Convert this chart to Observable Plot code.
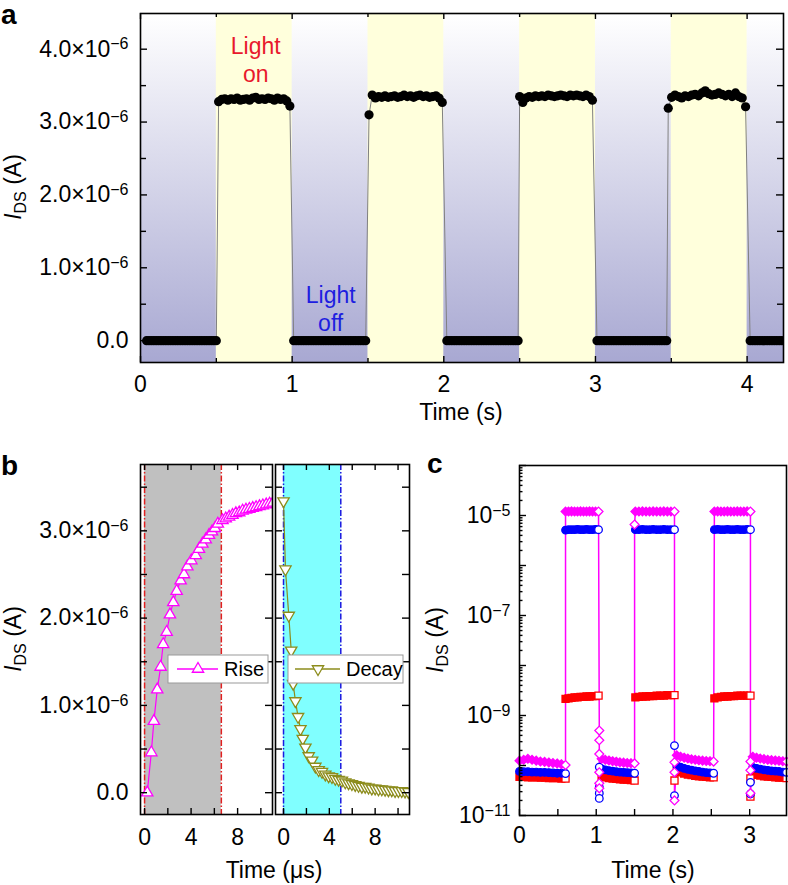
<!DOCTYPE html>
<html><head><meta charset="utf-8">
<script src="https://cdn.jsdelivr.net/npm/d3@7"></script>
<script src="https://cdn.jsdelivr.net/npm/@observablehq/plot@0.6"></script>
<style>
body{margin:0;background:#fff;}
#fig{position:relative;width:788px;height:885px;overflow:hidden;background:#fff;}
</style></head><body><div id="fig"></div>
<script>
// ---------------- DATA ----------------
// Panel a: light-on windows (s)
const aOnStart = [0.5, 1.5, 2.5, 3.5];
const aOnEnd   = [1.0, 2.0, 3.0, 4.0];
// Panel a: measured segments (start, end in s) and I_DS values (×1e-6 A)
const aSegStart = [0.04, 0.515, 1.01, 1.507, 2.02, 2.50, 3.01, 3.48, 4.02];
const aSegEnd   = [0.50, 0.985, 1.485, 1.99, 2.49, 2.98, 3.47, 3.99, 4.26];
const aOff1 = [0,0,0,0,0,0,0,0,0,0,0,0,0,0,0,0,0,0,0,0,0,0,0,0,0,0,0,0,0,0];
const aOff2 = [0,0,0,0,0,0,0,0,0,0,0,0,0,0,0,0,0,0,0,0,0,0,0,0,0,0,0,0,0,0];
const aOff3 = [0,0,0,0,0,0,0,0,0,0,0,0,0,0,0,0,0,0,0,0,0,0,0,0,0,0,0,0,0,0];
const aOff4 = [0,0,0,0,0,0,0,0,0,0,0,0,0,0,0,0,0,0,0,0,0,0,0,0,0,0,0,0,0,0];
const aOff5 = [0,0,0,0,0,0,0,0,0,0,0,0,0,0,0,0];
const aOn1 = [3.28,3.31,3.32,3.30,3.32,3.31,3.33,3.30,3.31,3.32,3.30,3.33,3.34,3.31,3.32,3.31,3.33,3.32,3.30,3.33,3.31,3.32,3.29,3.22];
const aOn2 = [3.10,3.37,3.33,3.35,3.34,3.36,3.34,3.35,3.36,3.34,3.35,3.37,3.35,3.36,3.34,3.36,3.37,3.35,3.36,3.34,3.35,3.36,3.33,3.27];
const aOn3 = [3.35,3.27,3.33,3.35,3.34,3.36,3.35,3.36,3.35,3.37,3.36,3.35,3.36,3.37,3.36,3.35,3.37,3.36,3.37,3.36,3.35,3.37,3.35,3.30];
const aOn4 = [3.19,3.34,3.37,3.35,3.33,3.36,3.35,3.37,3.38,3.36,3.40,3.43,3.39,3.37,3.38,3.40,3.38,3.36,3.38,3.35,3.40,3.35,3.33,3.21];
const aSegValues = [aOff1, aOn1, aOff2, aOn2, aOff3, aOn3, aOff4, aOn4, aOff5];
const aXTicks = [0, 1, 2, 3, 4];
const aXMinor = [0.5, 1.5, 2.5, 3.5];
const aYTicks = [0, 1e-6, 2e-6, 3e-6, 4e-6];
const aYMinor = [0.5e-6, 1.5e-6, 2.5e-6, 3.5e-6];

// Panel b: rise (µs, ×1e-6 A)
const riseT = [0.23,0.58,0.80,1.09,1.38,1.60,1.90,2.18,2.47,2.76,3.10,3.39,3.68,4.02,4.40,4.68,4.97,5.26,5.54,5.80,6.05,6.30,6.70,6.98,7.27,7.56,7.85,8.14,8.43,8.72,9.01,9.30,9.59,9.88,10.17,10.46,10.75,11.04];
const riseI = [0.00,0.46,0.82,1.18,1.44,1.70,1.84,2.04,2.18,2.31,2.43,2.50,2.59,2.66,2.72,2.79,2.85,2.90,2.95,2.99,3.03,3.08,3.12,3.14,3.16,3.18,3.20,3.21,3.23,3.24,3.25,3.26,3.27,3.28,3.29,3.30,3.31,3.32];
// Panel b: decay (µs, ×1e-6 A)
const decT = [0.0,0.17,0.46,0.67,0.84,1.04,1.27,1.48,1.68,1.91,2.20,2.50,2.78,3.07,3.36,3.65,3.94,4.23,4.52,4.81,5.10,5.39,5.68,5.97,6.26,6.55,6.84,7.13,7.42,7.71,8.0,8.29,8.58,8.87,9.16,9.45,9.74,10.03,10.32,10.61,10.9];
const decI = [3.34,2.56,2.03,1.63,1.25,1.05,0.87,0.73,0.62,0.52,0.42,0.37,0.30,0.26,0.24,0.21,0.19,0.18,0.16,0.15,0.14,0.12,0.11,0.10,0.09,0.08,0.07,0.07,0.06,0.05,0.05,0.04,0.04,0.035,0.03,0.03,0.02,0.02,0.02,0.015,0.01];
const riseWindow = [0, 6.6];
const decayWindow = [0, 5.0];
const bXTicks = [0, 4, 8];
const bXMinor = [2, 6, 10];
const bYTicks = [0, 1e-6, 2e-6, 3e-6];
const bYMinor = [0.5e-6, 1.5e-6, 2.5e-6, 3.5e-6];

// Panel c: segments (s)
const cOffRanges = [[0.0,0.6],[1.07,1.5],[2.05,2.53],[3.04,3.48]];
const cOnRanges  = [[0.6,1.03],[1.51,2.02],[2.54,3.01]];
const cTransT = [1.04, 2.02, 3.01];
const cPreT = [0.6, 1.5, 2.54];
// red squares
const redOff = [[5.9,5.9,5.8,5.8,5.8,5.7,5.7,5.6,5.6,5.6,5.5,5.5],[6.0,5.8,5.6,5.5,5.4,5.3,5.2,5.2,5.1,5.0],[7.9,7.3,6.9,6.6,6.4,6.2,6.1,6.0,5.9,5.8,5.8],[6.8,6.5,6.3,6.1,6.0,5.9,5.8,5.7,5.7,5.6]]; // ×1e-11
const redOn  = [[2.15,2.2,2.25,2.3,2.3,2.35,2.35,2.4,2.4,2.45,2.45,2.5],[2.3,2.35,2.4,2.4,2.45,2.45,2.5,2.5,2.5,2.55,2.55,2.55],[2.2,2.3,2.35,2.4,2.4,2.45,2.45,2.5,2.5,2.5,2.5,2.5]]; // ×1e-9
const redPre = [[],[],[]];
const redTrans = [[],[5.0e-11],[5.5e-11,2.4e-11]];
// blue circles
const blueOff = [[7.6,7.5,7.5,7.4,7.4,7.3,7.3,7.2,7.1,7.0,7.0,6.9],[8.6,8.2,7.9,7.7,7.5,7.4,7.3,7.2,7.1,7.0],[10,9.3,8.8,8.4,8.1,7.8,7.6,7.4,7.2,7.1,7.0],[9.2,8.8,8.5,8.2,8.0,7.8,7.7,7.6,7.4,7.3]]; // ×1e-11
const blueOn  = [[5.1,5.2,5.2,5.2,5.3,5.2,5.2,5.3,5.2,5.2,5.3,5.2],[5.2,5.2,5.3,5.2,5.2,5.3,5.2,5.2,5.3,5.2,5.2,5.2],[5.2,5.3,5.2,5.2,5.3,5.2,5.2,5.3,5.2,5.2,5.3,5.2]]; // ×1e-6
const bluePre = [[],[],[]];
const blueTrans = [[9.3e-11,3.7e-11,2.8e-11,2.2e-11],[2.5e-10,2.5e-11],[4.6e-11,2.7e-11]];
// magenta diamonds
const magOff = [[1.25,1.3,1.36,1.3,1.25,1.2,1.18,1.15,1.12,1.1,1.06,1.02],[1.36,1.3,1.26,1.22,1.19,1.16,1.14,1.12,1.11,1.1],[1.6,1.5,1.43,1.38,1.33,1.3,1.27,1.25,1.23,1.22,1.2],[1.5,1.43,1.38,1.34,1.3,1.28,1.26,1.24,1.22,1.2]]; // ×1e-10
const magOn  = [[1.2,1.2,1.21,1.2,1.2,1.21,1.2,1.2,1.21,1.2,1.2,1.2],[1.2,1.2,1.21,1.2,1.2,1.21,1.2,1.2,1.21,1.2,1.2,1.2],[1.2,1.21,1.2,1.2,1.21,1.2,1.2,1.21,1.2,1.2,1.21,1.2]]; // ×1e-5
const magPre = [[],[6.6e-6],[]];
const magTrans = [[5e-10,3.2e-10,1.7e-10,7.3e-11,4.4e-11,3.5e-11],[1.16e-10,7.3e-11,2e-11],[1.2e-10,8e-11,2.8e-11]];
const cXTicks = [0, 1, 2, 3];
const cXMinor = [0.5, 1.5, 2.5];
const cYLabeled = [1e-11, 1e-9, 1e-7, 1e-5];

// ---------------- HELPERS ----------------
const FONT = '"Liberation Sans", Arial, Helvetica, sans-serif';
const fig = document.getElementById("fig");
function place(svg, left, top) {
  svg.style.position = "absolute"; svg.style.left = left + "px"; svg.style.top = top + "px";
  svg.style.overflow = "visible";
  fig.appendChild(svg);
}
// inward tick rules; length converted from px to data units of each scale
function inTicks(sides, xs, ys, len, xd, yd, W, H, ylog) {
  const o = {stroke: "black", strokeWidth: 1.4};
  const fx = len / W, fy = len / H;
  const yAt = f => ylog ? yd[0] * Math.pow(yd[1] / yd[0], f) : yd[0] + (yd[1] - yd[0]) * f;
  const xAt = f => xd[0] + (xd[1] - xd[0]) * f;
  const m = [];
  for (const s of sides) {
    if (s === "bottom") m.push(Plot.ruleX(xs, {x: d => d, y1: yAt(0), y2: yAt(fy), ...o}));
    if (s === "top") m.push(Plot.ruleX(xs, {x: d => d, y1: yAt(1 - fy), y2: yAt(1), ...o}));
    if (s === "left") m.push(Plot.ruleY(ys, {y: d => d, x1: xAt(0), x2: xAt(fx), ...o}));
    if (s === "right") m.push(Plot.ruleY(ys, {y: d => d, x1: xAt(1 - fx), x2: xAt(1), ...o}));
  }
  return m;
}
function sup(svg) {
  d3.select(svg).selectAll("text").each(function() {
    const s = this.textContent; const i = s.indexOf("^");
    if (i < 0) return;
    const el = d3.select(this); el.text(null);
    el.append("tspan").text(s.slice(0, i));
    el.append("tspan").attr("dy", "-0.45em").attr("font-size", "16px").text(s.slice(i + 1));
  });
}
function yLabel(svg, x, y) {
  const t = d3.select(svg).append("text").attr("transform", `translate(${x},${y}) rotate(-90)`)
    .attr("text-anchor", "middle").attr("font-size", 23).attr("fill", "black").attr("font-family", FONT);
  t.append("tspan").attr("font-style", "italic").text("I");
  t.append("tspan").attr("font-size", 16).attr("dy", 5).text("DS");
  t.append("tspan").attr("dy", -5).text(" (A)");
}
function panelLetter(svg, x, y, s) {
  d3.select(svg).append("text").attr("x", x).attr("y", y).attr("text-anchor", "start").attr("font-size", 28).attr("font-weight", "bold")
    .attr("font-family", FONT).attr("fill", "black").text(s);
}
function plainText(svg, x, y, s) {
  d3.select(svg).append("text").attr("x", x).attr("y", y).attr("text-anchor", "middle").attr("font-size", 23)
    .attr("font-family", FONT).attr("fill", "black").text(s);
}
const sciFmt = d => d === 0 ? "0.0" : `${(d * 1e6).toFixed(1)}×10^−6`;
const baseStyle = {fontFamily: FONT, fontSize: "23px", background: "transparent", overflow: "visible", color: "black"};

// ---------------- PANEL A ----------------
const aRows = [];
aSegValues.forEach((vals, k) => {
  const t0 = aSegStart[k], t1 = aSegEnd[k], n = vals.length;
  vals.forEach((v, i) => aRows.push({t: t0 + (t1 - t0) * i / (n - 1), I: v * 1e-6}));
});
const aBands = aOnStart.map((s, i) => ({s, e: aOnEnd[i]}));
const AW = 643, AH = 349, AXD = [0, 4.24], AYD = [-0.3e-6, 4.49e-6];
const A = Plot.plot({
  width: 788, height: 440, marginLeft: 140, marginRight: 5, marginTop: 13, marginBottom: 78,
  style: baseStyle,
  x: {domain: AXD, axis: null}, y: {domain: AYD, axis: null},
  marks: [
    Plot.frame({fill: "url(#gradA)"}),
    Plot.rect(aBands, {x1: "s", x2: "e", fill: "#ffffdc"}),
    Plot.line(aRows, {x: "t", y: "I", stroke: "#808080", strokeWidth: 1, clip: true}),
    Plot.dot(aRows, {x: "t", y: "I", r: 4.6, fill: "black", clip: true}),
    Plot.text([{t: 0.76, I: 3.87e-6, s: "Light\non"}], {x: "t", y: "I", text: "s", fill: "#e8192c", lineHeight: 1.22, fontSize: 23}),
    Plot.text([{t: 1.254, I: 0.45e-6, s: "Light\noff"}], {x: "t", y: "I", text: "s", fill: "#1e1ee0", lineHeight: 1.25, fontSize: 23}),
    ...inTicks(["bottom", "top"], aXTicks, null, 6, AXD, AYD, AW, AH),
    ...inTicks(["bottom", "top"], aXMinor, null, 4, AXD, AYD, AW, AH),
    ...inTicks(["left", "right"], null, aYTicks, 7, AXD, AYD, AW, AH),
    ...inTicks(["left", "right"], null, aYMinor, 6, AXD, AYD, AW, AH),
    Plot.frame({stroke: "black", strokeWidth: 1.6}),
    Plot.axisX(aXTicks, {anchor: "bottom", tickSize: 0, tickPadding: 13, tickFormat: d => String(d), label: null}),
    Plot.axisY(aYTicks, {anchor: "left", tickSize: 0, tickPadding: 12, tickFormat: sciFmt, label: null})
  ]
});
d3.select(A).insert("defs", ":first-child").html('<linearGradient id="gradA" x1="0" y1="0" x2="0" y2="1"><stop offset="0" stop-color="#ffffff"/><stop offset="1" stop-color="#a8a8d2"/></linearGradient>');
sup(A);
yLabel(A, 21, 187);
plainText(A, 461, 420, "Time (s)");
panelLetter(A, 1, 24, "a");
place(A, 0, 0);

// ---------------- PANEL B ----------------
const riseRows = riseT.map((t, i) => ({t, I: riseI[i] * 1e-6}));
const decRows = decT.map((t, i) => ({t, I: decI[i] * 1e-6}));
const B1W = 132, B2W = 134, BH = 350, B1XD = [-0.35, 11.0], B2XD = [-0.7, 11.0], BYD = [-0.25e-6, 3.76e-6];
const B1 = Plot.plot({
  width: 273, height: 445, marginLeft: 140, marginRight: 1, marginTop: 24, marginBottom: 71,
  style: baseStyle,
  x: {domain: B1XD, axis: null}, y: {domain: BYD, axis: null},
  marks: [
    Plot.rect([{a: riseWindow[0], b: riseWindow[1]}], {x1: "a", x2: "b", fill: "#c0c0c0"}),
    Plot.ruleX(riseWindow, {stroke: "#e02020", strokeWidth: 1.5, strokeDasharray: "6,2,1.5,2"}),
    Plot.line(riseRows, {x: "t", y: "I", stroke: "#ff00ff", strokeWidth: 1.2, clip: true}),
    Plot.dot(riseRows, {x: "t", y: "I", symbol: "triangle", r: 4.2, fill: "white", stroke: "#ff00ff", strokeWidth: 1.3, clip: true}),
    ...inTicks(["bottom", "top"], bXTicks, null, 6, B1XD, BYD, B1W, BH),
    ...inTicks(["bottom", "top"], bXMinor, null, 6, B1XD, BYD, B1W, BH),
    ...inTicks(["left", "right"], null, bYTicks, 7, B1XD, BYD, B1W, BH),
    ...inTicks(["left", "right"], null, bYMinor, 7, B1XD, BYD, B1W, BH),
    Plot.frame({stroke: "black", strokeWidth: 1.6}),
    Plot.axisX(bXTicks, {anchor: "bottom", tickSize: 0, tickPadding: 14, tickFormat: d => String(d), label: null}),
    Plot.axisY(bYTicks, {anchor: "left", tickSize: 0, tickPadding: 12, tickFormat: sciFmt, label: null})
  ]
});
sup(B1);
yLabel(B1, 21, 199);
panelLetter(B1, 1, 35, "b");
plainText(B1, 274, 438, "Time (μs)");
{
  const g = d3.select(B1).append("g");
  g.append("rect").attr("x", 168).attr("y", 215).attr("width", 100).attr("height", 28).attr("fill", "white").attr("stroke", "#999").attr("stroke-width", 1);
  g.append("line").attr("x1", 177).attr("x2", 218).attr("y1", 229).attr("y2", 229).attr("stroke", "#ff00ff").attr("stroke-width", 1.3);
  g.append("path").attr("transform", "translate(198,229)").attr("d", d3.symbol(d3.symbolTriangle, Math.PI * 4.2 * 4.2)()).attr("fill", "white").attr("stroke", "#ff00ff").attr("stroke-width", 1.3);
  g.append("text").attr("x", 224).attr("y", 236).attr("text-anchor", "start").attr("font-size", 20).attr("font-family", FONT).text("Rise");
}
place(B1, 0, 440);

const B2 = Plot.plot({
  width: 145, height: 445, marginLeft: 5, marginRight: 6, marginTop: 24, marginBottom: 71,
  style: baseStyle,
  x: {domain: B2XD, axis: null}, y: {domain: BYD, axis: null},
  marks: [
    Plot.rect([{a: decayWindow[0], b: decayWindow[1]}], {x1: "a", x2: "b", fill: "#80ffff"}),
    Plot.ruleX(decayWindow, {stroke: "#1a1ae0", strokeWidth: 1.5, strokeDasharray: "6,2,1.5,2"}),
    Plot.line(decRows, {x: "t", y: "I", stroke: "#8c8c1c", strokeWidth: 1.2, clip: true}),
    Plot.dot(decRows, {x: "t", y: "I", symbol: "triangle", rotate: 180, r: 4.2, fill: "white", stroke: "#8c8c1c", strokeWidth: 1.3, clip: true}),
    ...inTicks(["bottom", "top"], bXTicks, null, 6, B2XD, BYD, B2W, BH),
    ...inTicks(["bottom", "top"], bXMinor, null, 6, B2XD, BYD, B2W, BH),
    ...inTicks(["left", "right"], null, bYTicks, 7, B2XD, BYD, B2W, BH),
    ...inTicks(["left", "right"], null, bYMinor, 7, B2XD, BYD, B2W, BH),
    Plot.frame({stroke: "black", strokeWidth: 1.6}),
    Plot.axisX(bXTicks, {anchor: "bottom", tickSize: 0, tickPadding: 14, tickFormat: d => String(d), label: null})
  ]
});
{
  const g = d3.select(B2).append("g");
  g.append("rect").attr("x", 18).attr("y", 215).attr("width", 115).attr("height", 28).attr("fill", "white").attr("stroke", "#999").attr("stroke-width", 1);
  g.append("line").attr("x1", 25).attr("x2", 70).attr("y1", 229).attr("y2", 229).attr("stroke", "#8c8c1c").attr("stroke-width", 1.3);
  g.append("path").attr("transform", "translate(48,229) rotate(180)").attr("d", d3.symbol(d3.symbolTriangle, Math.PI * 4.2 * 4.2)()).attr("fill", "white").attr("stroke", "#8c8c1c").attr("stroke-width", 1.3);
  g.append("text").attr("x", 76).attr("y", 236).attr("text-anchor", "start").attr("font-size", 20).attr("font-family", FONT).text("Decay");
}
place(B2, 270, 440);

// ---------------- PANEL C ----------------
function buildSeries(name, off, offScale, on, onScale, pre, trans) {
  const rows = [];
  const seg = (vals, scale, r) => vals.forEach((v, i) => rows.push({s: name, t: r[0] + (r[1] - r[0]) * i / Math.max(1, vals.length - 1), v: v * scale, open: i === vals.length - 1}));
  for (let k = 0; k < off.length; k++) {
    seg(off[k], offScale, cOffRanges[k]);
    if (k < on.length) {
      pre[k].forEach(v => rows.push({s: name, t: cPreT[k], v, open: true}));
      seg(on[k], onScale, cOnRanges[k]);
      trans[k].forEach(v => rows.push({s: name, t: cTransT[k], v, open: true}));
    }
  }
  return rows;
}
const redRows = buildSeries("red", redOff, 1e-11, redOn, 1e-9, redPre, redTrans);
const blueRows = buildSeries("blue", blueOff, 1e-11, blueOn, 1e-6, bluePre, blueTrans);
const magRows = buildSeries("mag", magOff, 1e-10, magOn, 1e-5, magPre, magTrans);
const cDecades = d3.range(-11, -3).map(k => Math.pow(10, k));
const cYMinor = [];
for (let k = -11; k < -4; k++) for (let m = 2; m <= 9; m++) cYMinor.push(m * Math.pow(10, k));
const cDots = (rows, symbol, color, r) => [
  Plot.dot(rows.filter(d => !d.open), {x: "t", y: "v", symbol, r, fill: color, stroke: color, strokeWidth: 1.2}),
  Plot.dot(rows.filter(d => d.open), {x: "t", y: "v", symbol, r, fill: "white", stroke: color, strokeWidth: 1.3})
];
const CW = 267, CH = 350, CXD = [0, 3.48], CYD = [1e-11, 1e-4];
const C = Plot.plot({
  width: 378, height: 445, marginLeft: 109, marginRight: 2, marginTop: 25, marginBottom: 70,
  style: baseStyle,
  x: {domain: CXD, axis: null}, y: {type: "log", domain: CYD, axis: null},
  marks: [
    Plot.line(magRows, {x: "t", y: "v", stroke: "#ff00ff", strokeWidth: 1.5}),
    ...cDots(redRows, "square", "#ff0000", 4),
    ...cDots(blueRows, "circle", "#0000ff", 3.8),
    ...cDots(magRows, "diamond2", "#ff00ff", 4),
    ...inTicks(["bottom"], cXTicks, null, 6, CXD, CYD, CW, CH, true),
    ...inTicks(["bottom"], cXMinor, null, 6, CXD, CYD, CW, CH, true),
    ...inTicks(["left"], null, cDecades, 7, CXD, CYD, CW, CH, true),
    ...inTicks(["left"], null, cYMinor, 3.5, CXD, CYD, CW, CH, true),
    Plot.frame({stroke: "black", strokeWidth: 1.6}),
    Plot.axisX(cXTicks, {anchor: "bottom", tickSize: 0, tickPadding: 11, tickFormat: d => String(d), label: null}),
    Plot.axisY(cYLabeled, {anchor: "left", tickSize: 0, tickPadding: 9, tickFormat: d => `10^−${Math.round(-Math.log10(d))}`, label: null})
  ]
});
sup(C);
yLabel(C, 33, 200);
panelLetter(C, 17, 33, "c");
plainText(C, 243, 438, "Time (s)");
place(C, 410, 440);
</script>
</body></html>
